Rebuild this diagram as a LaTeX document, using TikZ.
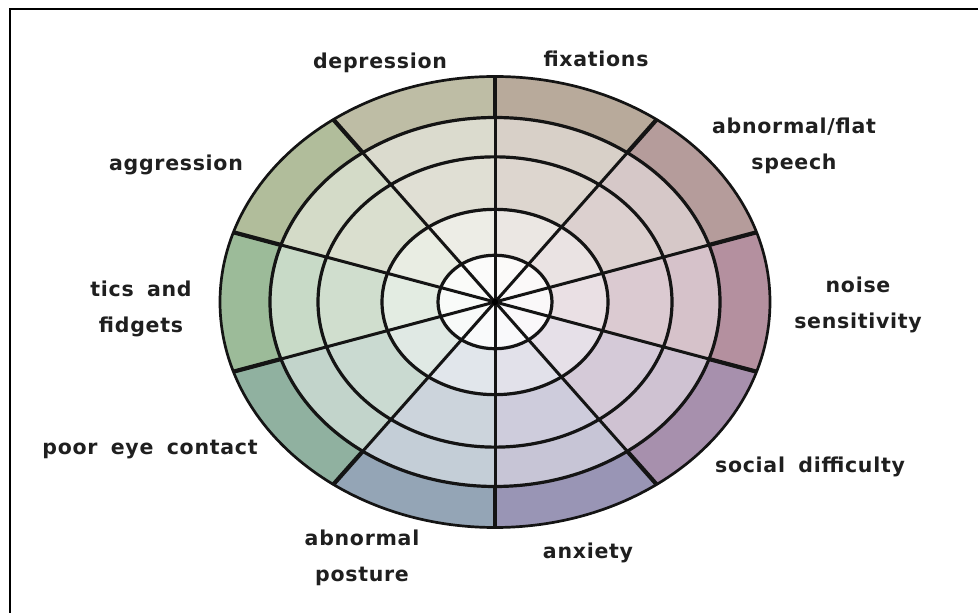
\documentclass[tikz,border=0pt]{standalone}
\usepackage{fontspec}
\usetikzlibrary{calc}
\setmainfont{DejaVu Sans}[BoldFont={DejaVu Sans Bold}]
\newfontfamily\lblfont{DejaVu Sans Bold}[LetterSpace=3.5,WordSpace=1.7]
\begin{document}
\begin{tikzpicture}[x=1pt,y=1pt,
  lbl/.style={font=\lblfont\fontsize{20.5}{36}\selectfont, text=black!88, align=center, inner sep=0pt},
  ring/.style={line width=3.2pt, draw=black!92},
  spoke/.style={line width=3pt, draw=black!92},
  outerspoke/.style={line width=4.2pt, draw=black!92}]
\useasboundingbox (0,0) rectangle (978,613);
\definecolor{cFix}{HTML}{B8AA9B}
\definecolor{cSpe}{HTML}{B59C9B}
\definecolor{cNoi}{HTML}{B4909F}
\definecolor{cSoc}{HTML}{A790AD}
\definecolor{cAnx}{HTML}{9995B5}
\definecolor{cPos}{HTML}{94A5B6}
\definecolor{cEye}{HTML}{90B1A0}
\definecolor{cTic}{HTML}{9CBB99}
\definecolor{cAgg}{HTML}{B1BD9B}
\definecolor{cDep}{HTML}{BEBDA5}
% frame (top and left edges)
\draw[line width=2.4pt] (10,-5) -- (10,604) -- (985,604);
\coordinate (c) at (495,311);
% sectors
\foreach \a/\col in {54/cFix,18/cSpe,-18/cNoi,-54/cSoc,-90/cAnx,-126/cPos,-162/cEye,162/cTic,126/cAgg,90/cDep}{
  \pgfmathsetmacro{\b}{\a+36}
  \foreach \ri/\ro/\p in {0/57/6,57/113/28,113/177/48,177/225/55,225/275/100}{
    \pgfmathsetmacro{\ryo}{0.82*\ro}
    \pgfmathsetmacro{\ryi}{0.82*\ri}
    \fill[\col!\p!white] ($(c)+(\a:\ro pt and \ryo pt)$) arc[start angle=\a, end angle=\b, x radius=\ro pt, y radius=\ryo pt]
      -- ($(c)+(\b:\ri pt and \ryi pt)$) arc[start angle=\b, end angle=\a, x radius=\ri pt, y radius=\ryi pt] -- cycle;
  }
}
% rings
\foreach \r in {57,113,177,225}{
  \pgfmathsetmacro{\ry}{0.82*\r}
  \draw[ring] (c) ellipse[x radius=\r pt, y radius=\ry pt];
}
\draw[ring, line width=2.7pt] (c) ellipse[x radius=275pt, y radius=225.5pt];
% spokes
\foreach \a [count=\i] in {90,54,18,-18,-54,-90,-126,-162,162,126}{
  \coordinate (s\i) at ($(c)+(\a:275pt and 225.5pt)$);
  \coordinate (m\i) at ($(c)+(\a:225pt and 184.5pt)$);
  \draw[spoke] (c) -- (m\i);
  \draw[outerspoke] (m\i) -- (s\i);
}
\fill[black] (c) circle (3.2pt);
% labels
\node[lbl] (dep) at (380,550) {depression};
\node[lbl] (fix) at (596,554) {fixations};
\node[lbl] (spe) at (794,467) {abnormal/flat\\speech};
\node[lbl] (agg) at (176,448) {aggression};
\node[lbl] (noi) at (858,308) {noise\\sensitivity};
\node[lbl] (tic) at (141,304) {tics and\\fidgets};
\node[lbl] (eye) at (150,163) {poor eye contact};
\node[lbl] (soc) at (810,146) {social difficulty};
\node[lbl] (pos) at (362,55) {abnormal\\posture};
\node[lbl] (anx) at (588,60) {anxiety};
\end{tikzpicture}
\end{document}
